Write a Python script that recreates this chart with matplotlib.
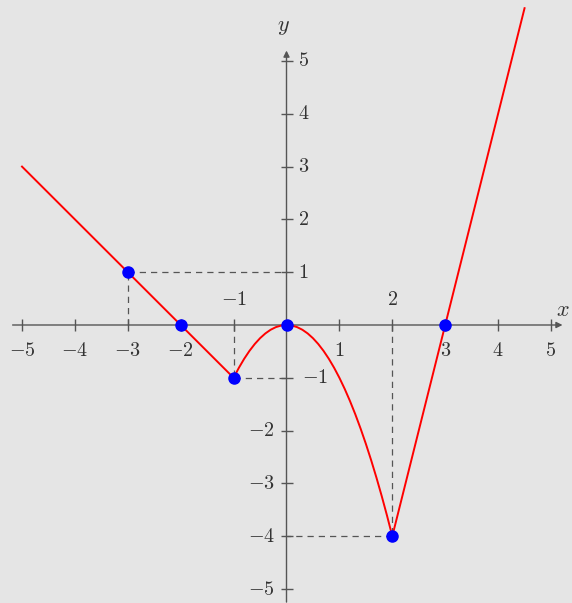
import numpy as np
import matplotlib.pyplot as plt

plt.rcParams['mathtext.fontset'] = 'cm'

# 分段函数的数据
x_left = [-5, -3, -2, -1]
y_left = [3, 1, 0, -1]
x_mid = [-1, -0.9, -0.8, -0.7, -0.6, -0.5, -0.4, -0.3, -0.2, -0.1, 0,
         0.1, 0.2, 0.3, 0.4, 0.5, 0.6, 0.7, 0.8, 0.9, 1.0,
         1.1, 1.2, 1.3, 1.4, 1.5, 1.6, 1.7, 1.8, 1.9, 2.0]
y_mid = [-1, -0.81, -0.64, -0.49, -0.36, -0.25, -0.16, -0.09, -0.04, -0.01, 0,
         -0.01, -0.04, -0.09, -0.16, -0.25, -0.36, -0.49, -0.64, -0.81, -1,
         -1.21, -1.44, -1.69, -1.96, -2.25, -2.56, -2.89, -3.24, -3.61, -4]
x_right = [2, 3, 4.5]
y_right = [-4, 0, 6]

pts_x = [-3, -2, -1, 0, 2, 3]
pts_y = [1, 0, -1, 0, -4, 0]

xticks = [-5, -4, -3, -2, -1, 1, 2, 3, 4, 5]
yticks = [-5, -4, -3, -2, -1, 1, 2, 3, 4, 5]

bg = '#e5e5e5'
axc = '#555555'
txtc = '#333333'
fs = 14.5

fig = plt.figure(figsize=(5.72, 6.03), dpi=100, facecolor=bg)
ax = fig.add_axes([0, 0, 1, 1])
ax.set_facecolor(bg)
ax.set_xlim(-5.416, 5.397)
ax.set_ylim(-5.265, 6.155)
ax.axis('off')

# 坐标轴
ax.annotate('', xy=(5.27, 0), xytext=(-5.23, 0),
            arrowprops=dict(arrowstyle='-|>', color=axc, lw=1.0, mutation_scale=9))
ax.annotate('', xy=(0, 5.25), xytext=(0, -5.3),
            arrowprops=dict(arrowstyle='-|>', color=axc, lw=1.0, mutation_scale=9))
ax.plot(xticks, [0] * len(xticks), ls='none', marker='|', ms=8, mew=1.0, color=axc)
ax.plot([0] * len(yticks), yticks, ls='none', marker='_', ms=8, mew=1.0, color=axc)

ax.text(5.23, 0.1, r'$x$', fontsize=16, color=txtc, ha='center', va='bottom')
ax.text(-0.06, 5.45, r'$y$', fontsize=16, color=txtc, ha='center', va='bottom')

# 刻度标签
for t in xticks:
    if t in (-1, 2):
        ax.text(t, 0.3, r'$%d$' % t, fontsize=fs, color=txtc, ha='center', va='bottom')
    else:
        ax.text(t, -0.3, r'$%d$' % t, fontsize=fs, color=txtc, ha='center', va='top')
for t in yticks:
    if t > 0:
        ax.text(0.22, t, r'$%d$' % t, fontsize=fs, color=txtc, ha='left', va='center')
    elif t == -1:
        ax.text(0.3, t, r'$%d$' % t, fontsize=fs, color=txtc, ha='left', va='center')
    else:
        ax.text(-0.22, t, r'$%d$' % t, fontsize=fs, color=txtc, ha='right', va='center')

# 虚线
dash = dict(color=axc, lw=0.9, ls=(0, (5, 4)))
for px, py in [(-3, 1), (-1, -1), (2, -4)]:
    ax.plot([px, px], [0, py], **dash)
    ax.plot([px, 0], [py, py], **dash)

# 函数曲线
ax.plot(x_left, y_left, color='red', lw=1.4, zorder=3)
ax.plot(x_mid, y_mid, color='red', lw=1.4, zorder=3)
ax.plot(x_right, y_right, color='red', lw=1.4, zorder=3)
ax.plot(pts_x, pts_y, 'o', color='blue', ms=8, zorder=4)

fig.savefig('out.png', dpi=100, facecolor=bg)
